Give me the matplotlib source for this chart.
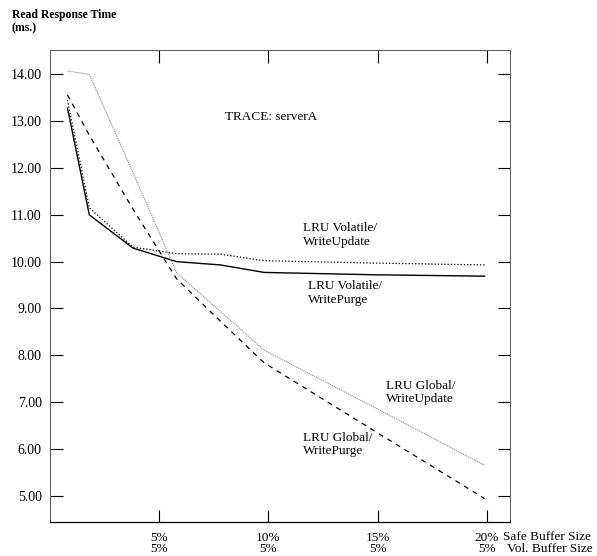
import matplotlib
matplotlib.use("Agg")
import matplotlib.pyplot as plt

plt.rcParams["font.family"] = ["Liberation Serif", "DejaVu Serif"]

# buffer sizes (% of cache) where each run was sampled
safe_size = [0.8, 1.8, 3.8, 5.8, 7.8, 9.8, 14.8, 19.9]

# read response time (ms) per policy
vol_purge  = [13.28, 11.00, 10.29, 10.00, 9.93, 9.77, 9.72, 9.69]
vol_update = [13.45, 11.15, 10.31, 10.17, 10.16, 10.02, 9.97, 9.93]
glob_update = [14.07, 14.00, 11.90, 9.76, 8.94, 8.11, 6.90, 5.65]
glob_purge = [13.56, 12.70, 11.12, 9.63, 8.73, 7.84, 6.40, 4.94]

yticks = [5, 6, 7, 8, 9, 10, 11, 12, 13, 14]
xticks = [5, 10, 15, 20]
safe_labels = ["5%", "10%", "15%", "20%"]
vol_labels = ["5%", "5%", "5%", "5%"]

fig = plt.figure(figsize=(5.97, 5.56), dpi=100)
ax = fig.add_axes([50 / 597, 1 - 522 / 556, 460 / 597, 472 / 556])

ax.plot(safe_size, vol_purge, color="black", lw=1.0)
ax.plot(safe_size, vol_update, color="black", lw=0.9, linestyle=(0, (1.0, 1.6)))
ax.plot(safe_size, glob_update, color="0.55", lw=0.8, linestyle=(0, (1, 0.8)))
ax.plot(safe_size, glob_purge, color="black", lw=0.9, linestyle=(0, (4, 4)))

ax.set_xlim(0, 21.06)
ax.set_ylim(4.44, 14.52)

ax.set_yticks(yticks)
ax.set_yticklabels([f"{v:.2f}" for v in yticks], fontsize=10)
ax.set_xticks(xticks)
ax.set_xticklabels([f"{s}\n{v}" for s, v in zip(safe_labels, vol_labels)],
                   fontsize=9.5, linespacing=0.95)
ax.tick_params(axis="both", direction="in", length=9, width=0.8,
               top=True, right=True, colors="black")
ax.tick_params(axis="y", pad=6)
ax.tick_params(axis="x", pad=7)

for side in ("left", "top", "right"):
    ax.spines[side].set_color("0.35")
    ax.spines[side].set_linewidth(0.7)
ax.spines["bottom"].set_linewidth(0.9)

# curve labels
lbl = dict(fontsize=9.5, ha="left", va="center", linespacing=1.15)
ax.text(8.02, 13.09, "TRACE: serverA", fontsize=9.5, ha="left", va="center")
ax.text(11.59, 10.57, "LRU Volatile/\nWriteUpdate", **lbl)
ax.text(11.82, 9.33, "LRU Volatile/\nWritePurge", **lbl)
ax.text(15.39, 7.20, "LRU Global/\nWriteUpdate", **lbl)
ax.text(11.59, 6.09, "LRU Global/\nWritePurge", **lbl)

# axis titles
fig.text(12 / 597, 1 - 15 / 556, "Read Response Time", fontsize=8.5,
         fontweight="bold", ha="left", va="center")
fig.text(12 / 597, 1 - 28 / 556, "(ms.)", fontsize=8.5,
         fontweight="bold", ha="left", va="center")
fig.text(503 / 597, 1 - 537 / 556, "Safe Buffer Size", fontsize=9.5,
         ha="left", va="center")
fig.text(507 / 597, 1 - 549 / 556, "Vol. Buffer Size", fontsize=9.5,
         ha="left", va="center")

fig.savefig("out.png", dpi=100)
